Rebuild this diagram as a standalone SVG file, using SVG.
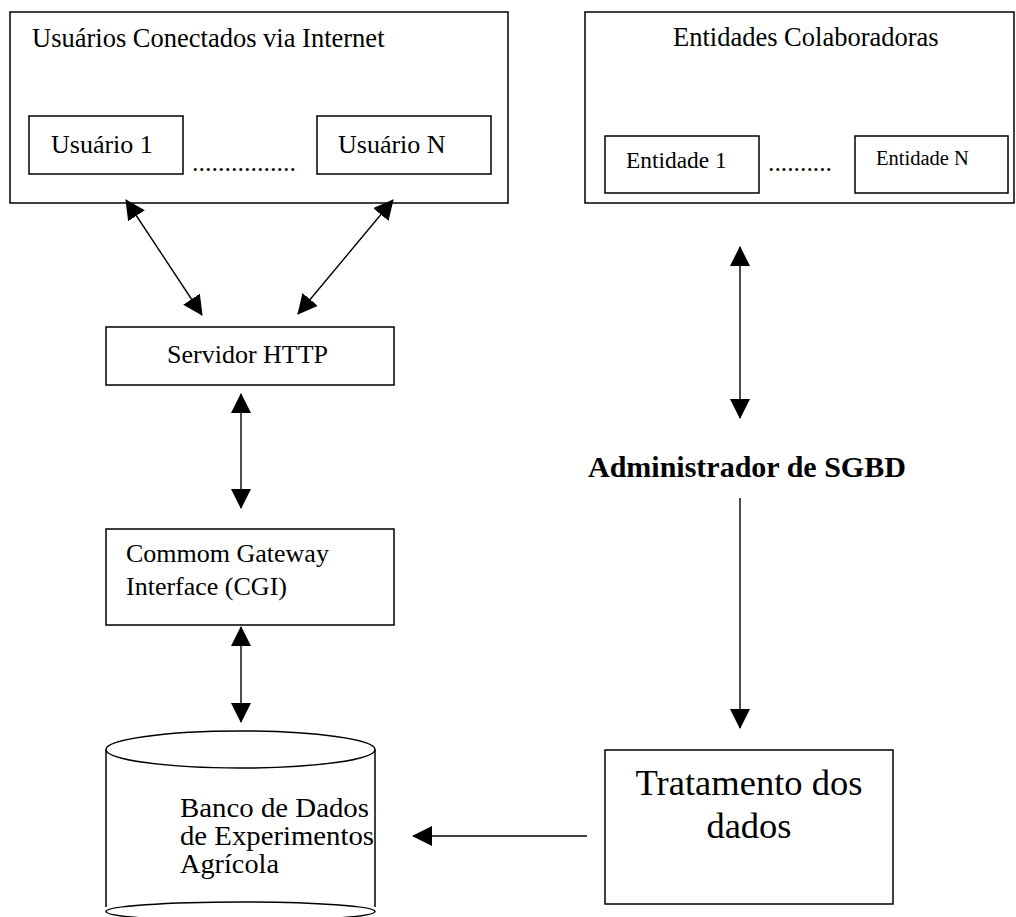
<svg xmlns="http://www.w3.org/2000/svg" width="1016" height="917" viewBox="0 0 1016 917">
  <style>
    .box { fill: #fff; stroke: #000; stroke-width: 1.5; }
    .plain { fill: none; stroke: #000; stroke-width: 1.5; }
    .t { font-family: "Liberation Serif", "Times New Roman", serif; fill: #000; font-size: 26px; }
    .b { font-weight: bold; font-size: 30px; }
    .edge { fill: none; stroke: #000; stroke-width: 1.4; }
  </style>
  <defs>
    <marker id="head" viewBox="0 0 20 20" markerUnits="userSpaceOnUse" markerWidth="20" markerHeight="20" refX="19" refY="10" orient="auto-start-reverse">
      <path d="M0,0 L20,10 L0,20 z" fill="#000"/>
    </marker>
  </defs>
  <rect width="1016" height="917" fill="#fff"/>

  <!-- internet users group -->
  <g id="usuarios">
    <rect class="box" x="10" y="12" width="498" height="191"/>
    <text class="t" x="32" y="47" style="font-size:26.5px">Usuários Conectados via Internet</text>
    <text class="t" x="192" y="171" textLength="104" lengthAdjust="spacingAndGlyphs">................</text>
  </g>
  <g id="usuario-1">
    <rect class="box" x="29" y="116" width="154" height="58"/>
    <text class="t" x="51" y="153">Usuário 1</text>
  </g>
  <g id="usuario-n">
    <rect class="box" x="317" y="116" width="174" height="58"/>
    <text class="t" x="338" y="153">Usuário N</text>
  </g>

  <!-- collaborating entities group -->
  <g id="entidades">
    <rect class="box" x="585" y="12" width="429" height="191"/>
    <text class="t" x="673" y="46" style="font-size:26.5px">Entidades Colaboradoras</text>
    <text class="t" x="768" y="171" style="font-size:25px" textLength="64" lengthAdjust="spacingAndGlyphs">..........</text>
  </g>
  <g id="entidade-1">
    <rect class="box" x="605" y="136" width="154" height="57"/>
    <text class="t" x="626" y="168" style="font-size:23.4px">Entidade 1</text>
  </g>
  <g id="entidade-n">
    <rect class="box" x="855" y="136" width="153" height="57"/>
    <text class="t" x="876" y="165" style="font-size:20.5px">Entidade N</text>
  </g>

  <g id="servidor-http">
    <rect class="box" x="106" y="327" width="288" height="58"/>
    <text class="t" x="167" y="363">Servidor HTTP</text>
  </g>

  <g id="cgi">
    <rect class="box" x="106" y="529" width="288" height="96"/>
    <text class="t" x="126" y="562">Commom Gateway</text>
    <text class="t" x="126" y="595">Interface (CGI)</text>
  </g>

  <!-- database cylinder -->
  <g id="banco-de-dados">
    <path d="M106,749.5 L106,908 L375,908 L375,749.5 z" fill="#fff"/>
    <line class="plain" x1="106" y1="749.5" x2="106" y2="907"/>
    <line class="plain" x1="375" y1="749.5" x2="375" y2="907"/>
    <ellipse class="box" cx="240.5" cy="749.5" rx="134.5" ry="18.5"/>
    <ellipse class="box" cx="240.5" cy="911.5" rx="134.5" ry="9.5"/>
    <text class="t" x="180" y="817" style="font-size:27px" textLength="189" lengthAdjust="spacingAndGlyphs">Banco de Dados</text>
    <text class="t" x="180" y="845" style="font-size:27px" textLength="194" lengthAdjust="spacingAndGlyphs">de Experimentos</text>
    <text class="t" x="180" y="873" style="font-size:27px" textLength="99" lengthAdjust="spacingAndGlyphs">Agrícola</text>
  </g>

  <g id="administrador">
    <text class="t b" x="588" y="477">Administrador de SGBD</text>
  </g>

  <g id="tratamento">
    <rect class="box" x="605" y="750" width="288" height="154"/>
    <text class="t" x="749" y="795" text-anchor="middle" style="font-size:36.5px">Tratamento dos</text>
    <text class="t" x="749" y="838" text-anchor="middle" style="font-size:36.5px">dados</text>
  </g>

  <!-- connectors -->
  <g id="connectors">
    <line class="edge" x1="126" y1="200" x2="202" y2="315" marker-start="url(#head)" marker-end="url(#head)"/>
    <line class="edge" x1="393" y1="200" x2="298" y2="314" marker-start="url(#head)" marker-end="url(#head)"/>
    <line class="edge" x1="241" y1="394" x2="241" y2="508" marker-start="url(#head)" marker-end="url(#head)"/>
    <line class="edge" x1="241" y1="627" x2="241" y2="722" marker-start="url(#head)" marker-end="url(#head)"/>
    <line class="edge" x1="740" y1="247" x2="740" y2="418" marker-start="url(#head)" marker-end="url(#head)"/>
    <line class="edge" x1="740" y1="498" x2="740" y2="728" marker-end="url(#head)"/>
    <line class="edge" x1="587" y1="836" x2="413" y2="836" marker-end="url(#head)"/>
  </g>
</svg>
